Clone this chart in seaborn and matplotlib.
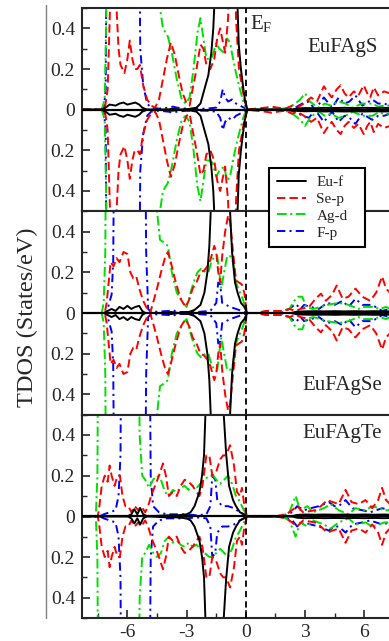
import numpy as np
import pandas as pd
import matplotlib
matplotlib.use("Agg")
import matplotlib.pyplot as plt
from matplotlib.lines import Line2D
from matplotlib.ticker import MultipleLocator, FixedLocator, FuncFormatter
import seaborn as sns

# ---------------- data (spin-up PDOS, spin-down is its mirror) ----------------
compounds = ["EuFAgS", "EuFAgSe", "EuFAgTe"]
orbitals = ["Eu-f", "Se-p", "Ag-d", "F-p"]

# EuFAgS
s_euf_e = [-8.3, -7.3, -7.1, -6.9, -6.6, -6.4, -6.2, -6.0, -5.8, -5.6, -5.4, -5.25, -5.0, -4.0, -3.7, -3.4,
           -2.8, -2.5, -2.3, -2.1, -1.9, -1.75, -1.65, -1.58, -1.5, -1.0, -0.48, -0.42, -0.36, -0.25, -0.15,
           -0.05, 0.08, 2.3, 2.6, 3.0, 3.5, 4.0, 4.5, 5.0, 5.5, 6.0, 6.5, 7.0, 7.3]
s_euf_v = [0, 0, 0.01, 0.025, 0.02, 0.03, 0.035, 0.025, 0.03, 0.035, 0.025, 0.01, 0, 0, 0.005, 0,
           0.004, 0.01, 0.03, 0.1, 0.17, 0.28, 0.4, 0.55, 1.5, 3.0, 0.7, 0.5, 0.32, 0.2, 0.12,
           0.05, 0.0, 0.0, 0.006, 0.008, 0.007, 0.009, 0.008, 0.009, 0.008, 0.009, 0.008, 0.009, 0.008]
s_sep_e = [-8.3, -7.15, -7.0, -6.85, -6.75, -6.6, -6.45, -6.35, -6.15, -6.0, -5.88, -5.75, -5.63, -5.5, -5.37,
           -5.2, -5.0, -4.8, -4.6, -4.4, -4.2, -4.0, -3.8, -3.6, -3.4, -3.2, -3.0, -2.85, -2.7, -2.5, -2.3,
           -2.15, -2.0, -1.8, -1.6, -1.45, -1.3, -1.2, -1.05, -0.9, -0.75, -0.6, -0.5, -0.35, -0.2, -0.1,
           0.05, 0.5, 1.0, 1.3, 1.6, 2.0, 2.35, 2.6, 2.94, 3.3, 3.6, 3.95, 4.12, 4.35, 4.6, 4.8, 5.0, 5.2,
           5.47, 5.7, 5.97, 6.15, 6.3, 6.48, 6.7, 7.0, 7.3]
s_sep_v = [0, 0, 0.1, 0.6, 1.5, 0.6, 0.3, 0.22, 0.18, 0.25, 0.34, 0.25, 0.2, 0.2, 0.22,
           0.12, 0.05, 0.02, 0.01, 0.05, 0.15, 0.25, 0.33, 0.27, 0.17, 0.08, 0.03, 0.02, 0.1, 0.2, 0.32,
           0.3, 0.22, 0.2, 0.25, 0.35, 0.4, 0.35, 0.28, 0.45, 1.0, 1.5, 0.45, 0.2, 0.12, 0.06,
           0.0, 0.005, 0.01, 0.015, 0.01, 0.005, 0.02, 0.01, 0.03, 0.06, 0.04, 0.115, 0.09, 0.06, 0.1, 0.12, 0.08, 0.06,
           0.09, 0.07, 0.12, 0.08, 0.06, 0.11, 0.07, 0.09, 0.08]
s_agd_e = [-8.3, -7.3, -7.15, -7.08, -7.0, -4.5, -4.35, -4.2, -3.95, -3.75, -3.5, -3.25, -3.05, -2.85, -2.65,
           -2.45, -2.3, -2.15, -2.0, -1.85, -1.7, -1.5, -1.35, -1.1, -0.95, -0.8, -0.65, -0.5, -0.3, -0.1,
           0.05, 1.5, 2.2, 2.5, 2.75, 3.0, 3.25, 3.5, 3.7, 4.0, 4.3, 4.7, 5.05, 5.4, 5.9, 6.2, 6.4, 6.7, 7.0, 7.3]
s_agd_v = [0, 0, 0.05, 0.4, 1.5, 1.5, 0.5, 0.4, 0.36, 0.28, 0.15, 0.05, 0.03, 0.06, 0.2,
           0.38, 0.45, 0.35, 0.25, 0.25, 0.26, 0.33, 0.3, 0.28, 0.35, 0.33, 0.25, 0.18, 0.1, 0.03,
           0.0, 0.0, 0.01, 0.03, 0.05, 0.08, 0.04, 0.02, 0.01, 0.03, 0.02, 0.04, 0.03, 0.01, 0.03, 0.03, 0.03, 0.015, 0.02, 0.02]
s_fp_e = [-8.3, -7.2, -7.1, -7.02, -5.45, -5.35, -5.2, -5.0, -4.8, -4.4, -3.9, -3.7, -3.5, -3.0, -2.5, -2.0,
          -1.5, -1.3, -1.17, -1.05, -0.9, -0.7, -0.5, -0.3, -0.1, 0.1, 2.0, 2.5, 2.86, 3.2, 3.5, 3.95, 4.37,
          4.7, 5.0, 5.25, 5.55, 5.9, 6.4, 6.7, 7.0, 7.3]
s_fp_v = [0, 0, 0.1, 1.5, 1.5, 0.3, 0.12, 0.03, 0.01, 0.005, 0.01, 0.015, 0.01, 0.005, 0.005, 0.005,
          0.01, 0.04, 0.1, 0.06, 0.04, 0.05, 0.03, 0.02, 0.01, 0.0, 0.0, 0.01, 0.03, 0.04, 0.0, 0.06, 0.01,
          0.06, 0.03, 0.04, 0.07, 0.02, 0.05, 0.03, 0.03, 0.02]

# EuFAgSe
se_euf_e = [-8.3, -7.2, -7.0, -6.8, -6.6, -6.4, -6.2, -6.0, -5.8, -5.6, -5.4, -5.25, -5.1, -4.0, -3.8, -3.4,
            -2.9, -2.6, -2.3, -2.1, -1.95, -1.85, -1.78, -1.7, -1.3, -0.88, -0.8, -0.7, -0.55, -0.42, -0.25,
            -0.08, 0.08, 2.3, 2.6, 3.0, 3.5, 4.0, 4.5, 5.0, 5.5, 6.0, 6.5, 7.0, 7.3]
se_euf_v = [0, 0, 0.01, 0.02, 0.01, 0.03, 0.02, 0.035, 0.02, 0.03, 0.035, 0.01, 0, 0, 0.005, 0,
            0.005, 0.015, 0.04, 0.1, 0.2, 0.33, 0.5, 1.5, 3.0, 1.5, 0.5, 0.3, 0.15, 0.1, 0.05,
            0.03, 0.0, 0.0, 0.007, 0.008, 0.009, 0.008, 0.009, 0.008, 0.009, 0.008, 0.009, 0.008, 0.008]
se_sep_e = [-8.3, -7.15, -7.05, -6.95, -6.85, -6.7, -6.55, -6.4, -6.2, -6.0, -5.85, -5.7, -5.55, -5.4, -5.2,
            -5.0, -4.85, -4.7, -4.5, -4.3, -4.1, -3.95, -3.8, -3.6, -3.4, -3.25, -3.05, -2.85, -2.7, -2.5,
            -2.3, -2.1, -1.95, -1.8, -1.6, -1.5, -1.4, -1.3, -1.2, -1.05, -0.9, -0.8, -0.65, -0.5, -0.35,
            -0.2, -0.08, 0.05, 0.5, 1.0, 1.5, 1.85, 2.2, 2.5, 2.77, 3.2, 3.53, 3.8, 4.05, 4.37, 4.6, 4.9,
            5.2, 5.55, 5.9, 6.3, 6.6, 6.9, 7.1, 7.3]
se_sep_v = [0, 0, 0.05, 0.15, 0.25, 0.23, 0.27, 0.25, 0.3, 0.29, 0.2, 0.17, 0.18, 0.12, 0.06,
            0.02, 0.0, 0.05, 0.12, 0.2, 0.27, 0.3, 0.25, 0.17, 0.1, 0.06, 0.03, 0.07, 0.12, 0.15,
            0.2, 0.21, 0.23, 0.26, 0.33, 0.3, 0.2, 0.15, 0.28, 0.4, 0.48, 0.45, 0.3, 0.16, 0.15,
            0.14, 0.1, 0.0, 0.0, 0.01, 0.01, 0.01, 0.02, 0.01, 0.02, 0.03, 0.07, 0.095, 0.06, 0.09, 0.135, 0.07,
            0.08, 0.12, 0.08, 0.06, 0.1, 0.18, 0.12, 0.1]
se_agd_e = [-8.3, -7.3, -7.2, -7.12, -7.05, -4.6, -4.5, -4.35, -4.2, -3.95, -3.75, -3.5, -3.2, -3.0, -2.8,
            -2.65, -2.45, -2.25, -2.05, -1.9, -1.75, -1.6, -1.45, -1.35, -1.25, -1.1, -0.95, -0.8, -0.65, -0.5,
            -0.3, -0.16, 0.05, 1.5, 2.2, 2.45, 2.65, 2.86, 3.05, 3.4, 3.8, 4.12, 4.7, 5.2, 5.7, 6.0, 6.4, 6.8, 7.1, 7.3]
se_agd_v = [0, 0, 0.05, 0.3, 1.5, 1.5, 0.5, 0.36, 0.35, 0.33, 0.2, 0.1, 0.05, 0.03, 0.1,
            0.15, 0.2, 0.22, 0.2, 0.2, 0.25, 0.28, 0.28, 0.2, 0.12, 0.2, 0.28, 0.28, 0.25, 0.15,
            0.1, 0.07, 0.0, 0.0, 0.02, 0.06, 0.08, 0.08, 0.03, 0.02, 0.03, 0.04, 0.05, 0.04, 0.02, 0.03, 0.03, 0.02, 0.03, 0.02]
se_fp_e = [-8.3, -7.05, -6.92, -6.8, -6.72, -6.62, -5.15, -5.05, -4.95, -4.8, -3.9, -3.7, -3.5, -2.5, -1.8,
           -1.5, -1.4, -1.3, -1.2, -1.0, -0.8, -0.5, -0.2, 0.1, 1.8, 2.2, 2.52, 2.77, 2.95, 3.28, 3.7, 4.12,
           4.5, 4.9, 5.2, 5.55, 5.9, 6.4, 6.9, 7.3]
se_fp_v = [0, 0, 0.05, 0.09, 0.25, 1.5, 1.5, 0.3, 0.02, 0.005, 0.01, 0.015, 0.005, 0.005, 0.01,
           0.05, 0.15, 0.14, 0.05, 0.04, 0.03, 0.02, 0.01, 0, 0, 0.02, 0.045, 0.02, 0.04, 0.03, 0.02, 0.05,
           0.04, 0.06, 0.03, 0.07, 0.04, 0.04, 0.01, 0.02]

# EuFAgTe
te_euf_e = [-8.3, -6.0, -5.8, -5.65, -5.5, -5.35, -5.2, -5.0, -4.0, -3.5, -3.0, -2.8, -2.6, -2.35, -2.22,
            -2.12, -2.05, -1.98, -1.6, -1.2, -1.12, -1.0, -0.85, -0.65, -0.5, -0.3, -0.1, 0.08, 2.3, 2.6,
            3.0, 3.5, 4.0, 4.5, 5.0, 5.5, 6.0, 6.5, 7.0, 7.3]
te_euf_v = [0, 0, 0.01, 0.035, 0.01, 0.04, 0.01, 0.0, 0.005, 0.005, 0.01, 0.02, 0.05, 0.12, 0.2,
            0.3, 0.5, 1.5, 3.0, 1.5, 0.5, 0.31, 0.15, 0.08, 0.05, 0.02, 0.01, 0, 0, 0.007,
            0.009, 0.008, 0.009, 0.008, 0.009, 0.008, 0.009, 0.008, 0.009, 0.008]
te_sep_e = [-8.3, -7.5, -7.42, -7.3, -7.15, -7.0, -6.9, -6.8, -6.65, -6.5, -6.38, -6.25, -6.1, -5.95, -5.8,
            -5.63, -5.45, -5.3, -5.1, -4.95, -4.8, -4.6, -4.4, -4.2, -4.05, -3.9, -3.7, -3.5, -3.3, -3.1,
            -2.9, -2.7, -2.5, -2.35, -2.2, -2.0, -1.85, -1.7, -1.5, -1.3, -1.15, -1.0, -0.8, -0.6, -0.45,
            -0.3, -0.2, -0.1, 0.05, 1.5, 2.0, 2.2, 2.6, 2.9, 3.5, 3.8, 4.12, 4.4, 4.7, 5.05, 5.35, 5.72,
            6.06, 6.4, 6.7, 6.9, 7.1, 7.3]
te_sep_v = [0, 0, 0.05, 0.15, 0.2, 0.17, 0.25, 0.2, 0.15, 0.2, 0.2, 0.1, 0.05, 0.05, 0.02,
            0.05, 0.03, 0.05, 0.02, 0.05, 0.1, 0.15, 0.2, 0.26, 0.2, 0.1, 0.12, 0.1, 0.15, 0.18,
            0.17, 0.15, 0.12, 0.1, 0.15, 0.3, 0.3, 0.2, 0.22, 0.28, 0.3, 0.3, 0.35, 0.25, 0.12,
            0.1, 0.14, 0.07, 0, 0, 0.01, 0.02, 0.05, 0.02, 0.03, 0.05, 0.08, 0.07, 0.06, 0.13, 0.07, 0.06,
            0.08, 0.04, 0.08, 0.14, 0.08, 0.06]
te_agd_e = [-8.3, -7.6, -7.52, -7.45, -5.5, -5.38, -5.25, -5.1, -4.9, -4.7, -4.5, -4.3, -4.1, -3.9, -3.7,
            -3.5, -3.3, -3.1, -2.9, -2.7, -2.5, -2.3, -2.1, -1.85, -1.65, -1.5, -1.3, -1.1, -0.9, -0.7,
            -0.5, -0.35, -0.15, 0.05, 1.8, 2.2, 2.52, 2.75, 3.11, 3.4, 3.95, 4.3, 4.7, 5.2, 5.55, 6.06,
            6.4, 6.75, 7.0, 7.3]
te_agd_v = [0, 0, 0.2, 1.5, 1.5, 0.4, 0.2, 0.18, 0.14, 0.18, 0.2, 0.18, 0.12, 0.1, 0.13,
            0.12, 0.14, 0.15, 0.13, 0.15, 0.14, 0.16, 0.18, 0.2, 0.2, 0.18, 0.16, 0.18, 0.2, 0.16,
            0.1, 0.08, 0.04, 0, 0, 0.02, 0.1, 0.03, 0.05, 0.02, 0.04, 0.06, 0.03, 0.01, 0.04, 0.03,
            0.05, 0.04, 0.03, 0.03]
te_fp_e = [-8.3, -7.4, -7.2, -6.9, -6.6, -6.45, -6.35, -6.28, -4.92, -4.82, -4.7, -4.4, -4.0, -3.5, -3.0,
           -2.5, -2.0, -1.8, -1.7, -1.55, -1.45, -1.2, -0.9, -0.6, -0.3, 0.1, 1.8, 2.35, 2.6, 2.95, 3.28,
           3.7, 4.2, 4.5, 4.7, 5.05, 5.4, 5.9, 6.3, 6.9, 7.3]
te_fp_v = [0, 0, 0.01, 0.02, 0.03, 0.1, 0.3, 1.5, 1.5, 0.2, 0.05, 0.02, 0.01, 0.01, 0.01,
           0.005, 0.01, 0.05, 0.2, 0.18, 0.08, 0.05, 0.05, 0.04, 0.02, 0, 0, 0.02, 0.05, 0.03, 0.04,
           0.05, 0.07, 0.05, 0.05, 0.08, 0.04, 0.03, 0.02, 0.04, 0.03]

panels = [
    {"Eu-f": (s_euf_e, s_euf_v), "Se-p": (s_sep_e, s_sep_v), "Ag-d": (s_agd_e, s_agd_v), "F-p": (s_fp_e, s_fp_v)},
    {"Eu-f": (se_euf_e, se_euf_v), "Se-p": (se_sep_e, se_sep_v), "Ag-d": (se_agd_e, se_agd_v), "F-p": (se_fp_e, se_fp_v)},
    {"Eu-f": (te_euf_e, te_euf_v), "Se-p": (te_sep_e, te_sep_v), "Ag-d": (te_agd_e, te_agd_v), "F-p": (te_fp_e, te_fp_v)},
]

# ---------------- style ----------------
sns.set_style("ticks")
plt.rcParams["font.family"] = ["Liberation Serif", "DejaVu Serif"]
plt.rcParams["mathtext.fontset"] = "custom"
plt.rcParams["mathtext.rm"] = "Liberation Serif"
plt.rcParams["axes.unicode_minus"] = False
plt.rcParams["lines.scale_dashes"] = False

line_style = {
    "Eu-f": dict(color="black", linestyle="-"),
    "Se-p": dict(color="#ff0000", linestyle=(0, (6, 3))),
    "Ag-d": dict(color="#00e000", linestyle=(0, (7, 2.5, 1.5, 2.5))),
    "F-p": dict(color="#0000ff", linestyle=(0, (6, 3, 1.5, 3))),
}
draw_order = ["F-p", "Ag-d", "Se-p", "Eu-f"]

W, H = 389, 641
fig = plt.figure(figsize=(W / 100, H / 100), dpi=100)
gs = fig.add_gridspec(3, 1, left=82 / W, right=1.0, top=1 - 8 / H, bottom=1 - 618 / H, hspace=0)
axes = [fig.add_subplot(gs[i]) for i in range(3)]

for i, ax in enumerate(axes):
    for orb in draw_order:
        e, v = panels[i][orb]
        v = np.array(v)
        for sign in (1, -1):
            sns.lineplot(x=e, y=sign * v, ax=ax, estimator=None, sort=False, lw=1.4,
                         legend=False, **line_style[orb])
    ax.axhline(0, color="black", lw=1.6, zorder=5)
    ax.axvline(0, color="black", lw=1.3, linestyle=(0, (4.5, 3)), zorder=5)
    ax.set_xlim(-8.3, 7.25)
    ax.set_ylim(-0.5, 0.5)
    ax.yaxis.set_major_locator(FixedLocator([-0.4, -0.2, 0, 0.2, 0.4]))
    ax.yaxis.set_minor_locator(MultipleLocator(0.1))
    ax.yaxis.set_major_formatter(FuncFormatter(lambda y, p: "0" if abs(y) < 1e-9 else f"{abs(y):.1f}"))
    ax.set_ylabel("")
    ax.set_xlabel("")
    for sp in ax.spines.values():
        sp.set_linewidth(1.5)
    ax.spines["right"].set_visible(False)
    ax.tick_params(axis="y", which="major", direction="in", length=6, width=1.2, labelsize=14, pad=5)
    ax.tick_params(axis="y", which="minor", direction="in", length=3.5, width=1)
    if i < 2:
        ax.tick_params(axis="x", which="both", bottom=False, labelbottom=False)
    else:
        ax.xaxis.set_major_locator(FixedLocator([-6, -3, 0, 3, 6]))
        ax.xaxis.set_minor_locator(MultipleLocator(1.5))
        ax.set_xticklabels(["-6", "-3", "0", "3", "6"])
        ax.tick_params(axis="x", which="major", direction="in", length=6, width=1.2, labelsize=14, pad=4)
        ax.tick_params(axis="x", which="minor", direction="in", length=3.5, width=1)

axes[0].text(0.22, 0.395, r"E$_\mathrm{F}$", fontsize=15, ha="left", va="baseline")

label_pos = [(378, 52), (382, 390), (382, 438)]
for name, (px, py) in zip(compounds, label_pos):
    fig.text(px / W, 1 - py / H, name, fontsize=15, ha="right", va="baseline")

fig.text(27 / W, 1 - 317 / H, "TDOS (States/eV)", fontsize=17.5, rotation=90, ha="center", va="center")
fig.add_artist(Line2D([46 / W, 46 / W], [1 - 5 / H, 1 - 618 / H], color="#808080", lw=1))

handles = [Line2D([], [], lw=1.4, **line_style[o]) for o in orbitals]
leg = fig.legend(handles, orbitals, loc="upper left",
                 bbox_to_anchor=(269 / W, 1 - 260 / H, 96 / W, 92 / H), bbox_transform=fig.transFigure,
                 mode="expand", frameon=True, fancybox=False, edgecolor="black", framealpha=1,
                 fontsize=11, handlelength=1.9, handletextpad=0.7, labelspacing=0.2,
                 borderpad=0.5, borderaxespad=0)
leg.get_frame().set_linewidth(1.5)

fig.savefig("out.png", dpi=100)
